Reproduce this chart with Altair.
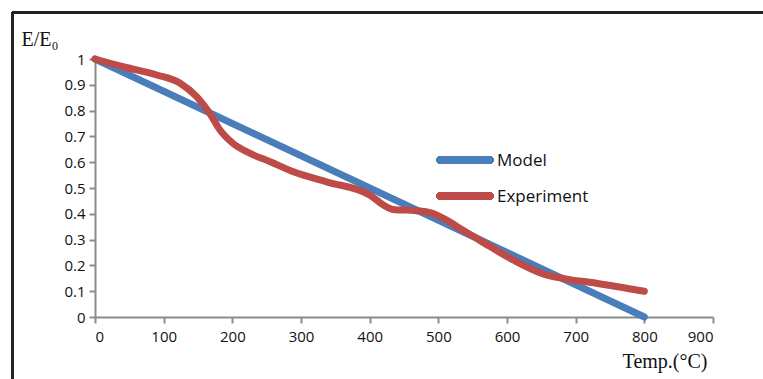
import altair as alt
import pandas as pd

# Model: linear decay of normalised modulus with temperature
model_temp = [0, 800]
model_ratio = [1.0, 0.0]

# Experiment: measured normalised modulus
exp_temp = [0, 41, 90, 124, 148, 167, 182, 201, 226, 255, 289, 337, 400, 420,
            434, 468, 488, 512, 531, 560, 609, 657, 687, 730, 800]
exp_ratio = [1.0, 0.970, 0.938, 0.906, 0.854, 0.79, 0.725, 0.673, 0.634, 0.602,
             0.563, 0.524, 0.473, 0.434, 0.417, 0.412, 0.405, 0.376, 0.344,
             0.298, 0.221, 0.163, 0.147, 0.131, 0.10]

series_names = ["Model", "Experiment"]
series_colors = ["#4A7EBB", "#BE4B48"]

df = pd.concat([
    pd.DataFrame({"temp": model_temp, "ratio": model_ratio, "series": "Model"}),
    pd.DataFrame({"temp": exp_temp, "ratio": exp_ratio, "series": "Experiment"}),
])

W, H = 618, 258
PAD_L, PAD_T = 95, 59

axis_common = dict(
    domainColor="#8C8C8C", domainWidth=2, tickColor="#8C8C8C", tickWidth=2,
    tickSize=6, grid=False, labelFont="Open Sans", labelFontSize=15,
    labelColor="#111111", titleFont="Liberation Serif", titleFontSize=20,
    titleFontWeight="normal", titleColor="#111111",
)

x_axis = alt.Axis(
    values=list(range(0, 1000, 100)), labelPadding=6,
    title="Temp.(°C)", titleAngle=0, titleAlign="right", titleX=612,
    titleY=50, titleBaseline="alphabetic", **axis_common,
)
y_axis = alt.Axis(
    values=[round(v * 0.1, 1) for v in range(11)], format=".1~f",
    labelPadding=4, title="E/E₀", titleAngle=0, titleAlign="left",
    titleX=-74, titleY=-14, titleBaseline="alphabetic", **axis_common,
)

color_scale = alt.Scale(domain=series_names, range=series_colors)

lines = alt.Chart(df).mark_line(
    strokeWidth=7, interpolate="monotone", strokeCap="round"
).encode(
    x=alt.X("temp:Q", scale=alt.Scale(domain=[0, 900], nice=False), axis=x_axis),
    y=alt.Y("ratio:Q", scale=alt.Scale(domain=[0, 1], nice=False), axis=y_axis),
    color=alt.Color("series:N", scale=color_scale, legend=None),
    detail="series:N",
)

# legend drawn as swatch lines with labels, stacked in rows
LEG_X, LEG_Y, LEG_ROW, LEG_LEN = 437 - PAD_L, 160 - PAD_T, 36, 56
legend_layers = []
for i, (name, col) in enumerate(zip(series_names, series_colors)):
    row_y = LEG_Y + i * LEG_ROW
    legend_layers.append(
        alt.Chart(df).mark_rule(color=col, strokeWidth=7, strokeCap="round").encode(
            x=alt.value(LEG_X + 3), x2=alt.value(LEG_X + LEG_LEN - 3),
            y=alt.value(row_y),
        )
    )
    legend_layers.append(
        alt.Chart(pd.DataFrame({"label": [name]})).mark_text(
            align="left", baseline="middle", font="Open Sans", fontSize=17,
            color="#111111",
        ).encode(
            x=alt.value(LEG_X + LEG_LEN + 4), y=alt.value(row_y + 1),
            text="label:N",
        )
    )

# outer frame: top and left border lines
frame_top = alt.Chart(df).mark_rule(color="#222222", strokeWidth=2).encode(
    x=alt.value(12 - PAD_L), x2=alt.value(763 - PAD_L + 5),
    y=alt.value(12.5 - PAD_T),
)
frame_left = alt.Chart(df).mark_rule(color="#222222", strokeWidth=2).encode(
    x=alt.value(12.5 - PAD_L), y=alt.value(12 - PAD_T),
    y2=alt.value(379 - PAD_T + 5),
)

chart = alt.layer(lines, *legend_layers, frame_top, frame_left).properties(
    width=W, height=H,
    background="white",
    autosize=alt.AutoSizeParams(type="none"),
    padding={"left": PAD_L, "top": PAD_T, "right": 763 - PAD_L - W,
             "bottom": 379 - PAD_T - H},
).configure_view(stroke=None)

chart.save("out.html", embed_options={"renderer": "svg", "actions": False})
